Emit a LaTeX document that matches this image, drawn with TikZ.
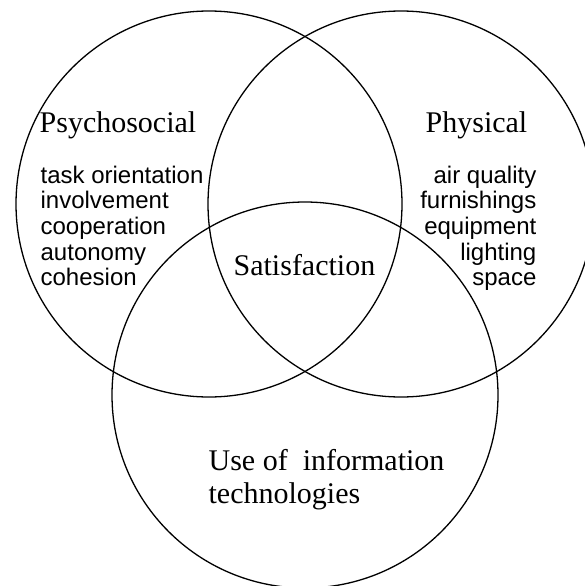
\documentclass[tikz,border=0pt]{standalone}
\usepackage{fontspec}
\setmainfont{Liberation Serif}
\newfontfamily\listfont{Liberation Sans}
\usetikzlibrary{shapes}

\begin{document}
\begin{tikzpicture}[x=1pt,y=-1pt,line width=1.3pt,inner sep=0pt]
\tikzstyle{ring}=[circle,draw=black,minimum size=386pt]
\tikzstyle{head}=[font=\fontsize{30}{33}\selectfont]
\tikzstyle{items}=[font=\listfont\fontsize{24}{25.7}\selectfont]
\useasboundingbox (0,0) rectangle (584,586);
\node[ring] (Psy) at (209,204) {};
\node[ring] (Phy) at (401,204) {};
\node[ring] (Use) at (305,395) {};
\node[head,anchor=base west] (PsyT) at (39,132) {Psychosocial};
\node[head,anchor=base west] (PhyT) at (425,132) {Physical};
\node[head,anchor=base west] (Sat) at (233,275) {Satisfaction};
\node[head,anchor=north west,align=left] (UseT) at (208,449)
  {Use of\ \ information\\technologies};
\node[items,anchor=north west,align=left] (PsyL) at (40,165)
  {task orientation\\involvement\\cooperation\\autonomy\\cohesion};
\node[items,anchor=north east,align=right] (PhyL) at (537,165)
  {air quality\\furnishings\\equipment\\lighting\\space};
\end{tikzpicture}
\end{document}
